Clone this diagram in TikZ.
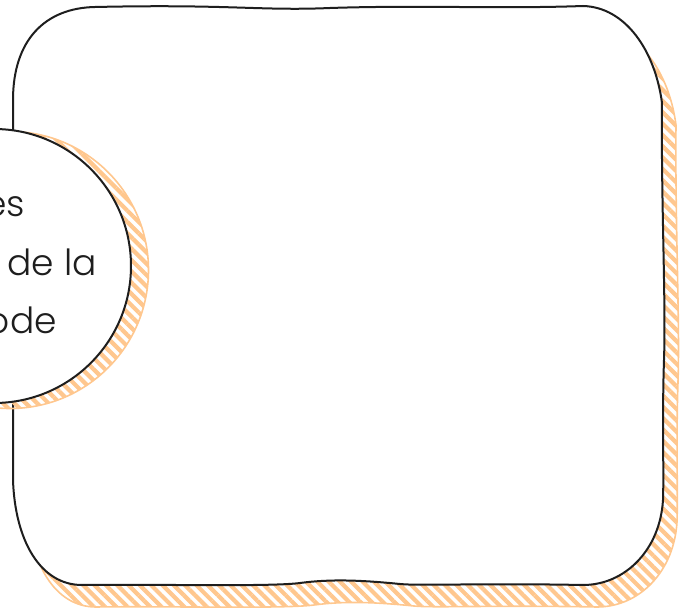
\documentclass[tikz,border=0pt]{standalone}
\usepackage{fontspec}
\setmainfont{Poppins}[UprightFont=* Light]
\usepackage{xcolor}
\usepackage{tikz}
\usetikzlibrary{patterns.meta}
\definecolor{shadeOrange}{HTML}{FFC78E}
\definecolor{inkBlack}{HTML}{1E1E1E}
\newcommand{\framepath}{(13,100) .. controls (13,40) and (45,8) .. (95,7)
  .. controls (230,4) and (260,11) .. (330,8) .. controls (420,5) and (500,9) .. (583,6)
  .. controls (625,7) and (655,50) .. (662,103)
  .. controls (661,200) and (666,300) .. (664,360) .. controls (662,420) and (664,470) .. (663,500)
  .. controls (660,550) and (625,585) .. (583,585)
  .. controls (480,583) and (420,586) .. (400,584) .. controls (360,580) and (330,579) .. (300,583)
  .. controls (270,587) and (150,584) .. (82,585)
  .. controls (40,585) and (15,540) .. (13,480) -- cycle}
\tikzset{
  sketch/.style={draw=inkBlack,line width=2pt,fill=white},
  hatch/.style={draw=shadeOrange,line width=1.6pt,
    pattern={Lines[angle=-45,distance=8pt,line width=4.2pt]},pattern color=shadeOrange},
  ltext/.style={font=\fontsize{36}{57}\selectfont,text=inkBlack,inner sep=0pt,anchor=base east},
}
\begin{document}
\begin{tikzpicture}[x=1pt,y=-1pt]
\useasboundingbox (0,0) rectangle (689,615);
\clip (0,0) rectangle (689,615);
% frame and its shadow
\begin{scope}[shift={(14,22)}]
\path[hatch] \framepath;
\end{scope}
\path[sketch] \framepath;
% circle on the left edge
\node[circle,hatch,minimum size=277pt,inner sep=0pt] (dotshade) at (10,270) {};
\node[circle,sketch,minimum size=274pt,inner sep=0pt] (dot) at (-6,266) {};
\node[ltext] (la) at (25,217) {es};
\node[ltext] (lb) at (97,276) {de la};
\node[ltext] (lc) at (57,333) {ode};
\end{tikzpicture}
\end{document}
